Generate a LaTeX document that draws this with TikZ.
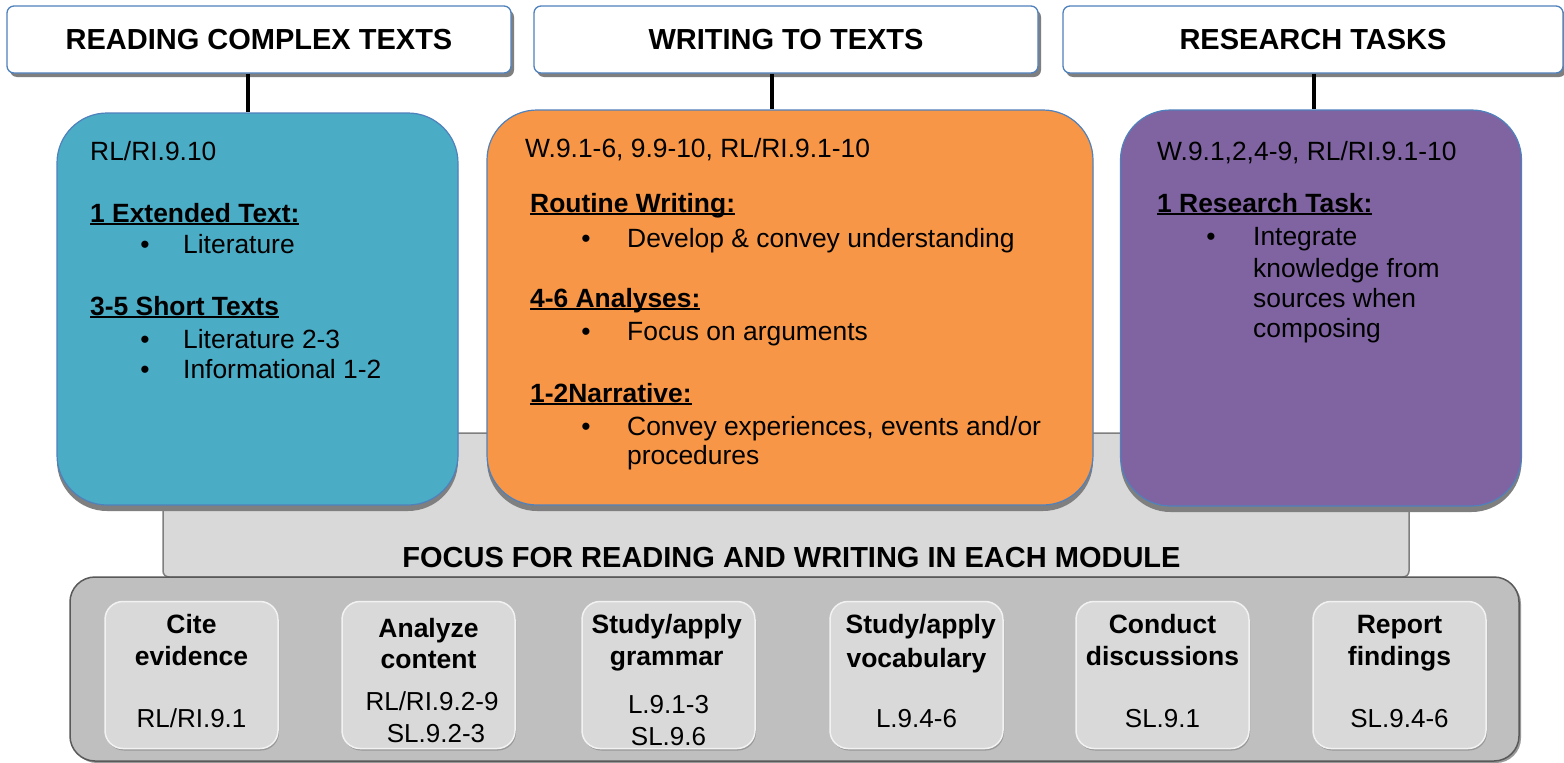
\documentclass[tikz,border=0pt]{standalone}
\usepackage{fontspec}
\setmainfont{Liberation Sans}
\usetikzlibrary{shadows}
\definecolor{tealc}{HTML}{4BACC6}
\definecolor{orangec}{HTML}{F79646}
\definecolor{purplec}{HTML}{8064A2}
\definecolor{blueline}{HTML}{4F81BD}
\definecolor{grayA}{HTML}{D9D9D9}
\definecolor{grayB}{HTML}{BFBFBF}
\definecolor{grayC}{HTML}{595959}
\definecolor{shadowgray}{HTML}{7F7F7F}
\newcommand\myul[1]{\setbox0\hbox{#1}\rlap{\rule[-3pt]{\wd0}{1.9pt}}\box0}
\newcommand\fsz[1]{\fontsize{#1}{#1}\selectfont}
\tikzset{
  hdr/.style={rounded corners=7pt,
    draw=blueline, line width=1.3pt, fill=white,
    minimum height=67pt, inner sep=0pt,
    drop shadow={shadow xshift=3pt, shadow yshift=-4pt, fill=shadowgray, opacity=1},
    font=\fsz{29}\bfseries},
  card/.style={draw=blueline, line width=1.2pt, rounded corners=50pt, inner sep=0pt,
    drop shadow={shadow xshift=0pt, shadow yshift=-6pt, fill=shadowgray, opacity=1}},
  txt/.style={anchor=base west, inner sep=0pt, font=\fsz{26.4}},
  bdot/.style={anchor=base, inner sep=0pt, font=\fsz{26.4}},
  conn/.style={draw=black, line width=4pt},
  focusbox/.style={draw=shadowgray, line width=1.5pt, fill=grayA, rounded corners=6pt, inner sep=0pt},
  outerbox/.style={draw=grayC, line width=1.5pt, fill=grayB, rounded corners=25pt, inner sep=0pt,
    drop shadow={shadow xshift=2pt, shadow yshift=-2pt, fill=shadowgray, opacity=0.8}},
  smallbox/.style={draw=white!95!black, line width=1.5pt, fill=grayA, rounded corners=18pt,
    minimum width=173pt, minimum height=147pt, inner sep=0pt,
    drop shadow={shadow xshift=1pt, shadow yshift=-2pt, fill=shadowgray, opacity=0.6}},
  stitle/.style={anchor=base, inner sep=0pt, font=\fsz{26.5}\bfseries},
  scode/.style={anchor=base, inner sep=0pt, font=\fsz{26}},
}
\begin{document}
\begin{tikzpicture}[x=1pt, y=-1pt]
\useasboundingbox[fill=white] (0,0) rectangle (1564,763);

% focus background
\node[focusbox, minimum width=1246pt, minimum height=144pt] (focus) at (786,505) {};

% cards
\node[card, fill=tealc, minimum width=401pt, minimum height=392pt] (b1) at (257.5,309) {};
\node[card, fill=orangec, minimum width=606pt, minimum height=395pt] (b2) at (790,307.5) {};
\node[card, fill=purplec, minimum width=401pt, minimum height=396pt] (b3) at (1321,308) {};

% headers
\node[hdr, minimum width=504pt] (h1) at (259,39.5) {READING COMPLEX TEXTS};
\node[hdr, minimum width=504pt] (h2) at (786,39.5) {WRITING TO TEXTS};
\node[hdr, minimum width=500pt] (h3) at (1313,39.5) {RESEARCH TASKS};

% connectors
\draw[conn] ([xshift=-11pt]h1.south) -- ([xshift=-11pt]h1.south |- b1.north);
\draw[conn] ([xshift=-14pt]h2.south) -- ([xshift=-14pt]h2.south |- b2.north);
\draw[conn] ([xshift=1pt]h3.south) -- ([xshift=1pt]h3.south |- b3.north);

% teal text
\node[txt] (t0) at (90,160) {RL/RI.9.10};
\node[txt] (t1) at (90,222) {\bfseries\myul{1 Extended Text:}};
\node[bdot] (t2d) at (145,253) {\textbullet};
\node[txt] (t2) at (183,253) {Literature};
\node[txt] (t3) at (90,315) {\bfseries\myul{3-5 Short Texts}};
\node[bdot] (t4d) at (145,348) {\textbullet};
\node[txt] (t4) at (183,348) {Literature 2-3};
\node[bdot] (t5d) at (145,378) {\textbullet};
\node[txt] (t5) at (183,378) {Informational 1-2};

% orange text
\node[txt] (o0) at (525,157) {W.9.1-6, 9.9-10, RL/RI.9.1-10};
\node[txt] (o1) at (530,212) {\bfseries\myul{Routine Writing:}};
\node[bdot] (o2d) at (586,247) {\textbullet};
\node[txt] (o2) at (627,247) {Develop \& convey understanding};
\node[txt] (o3) at (530,307) {\bfseries\myul{4-6 Analyses:}};
\node[bdot] (o4d) at (586,340) {\textbullet};
\node[txt] (o4) at (627,340) {Focus on arguments};
\node[txt] (o5) at (530,402) {\bfseries\myul{1-2Narrative:}};
\node[bdot] (o6d) at (586,435) {\textbullet};
\node[txt] (o6) at (627,435) {Convey experiences, events and/or};
\node[txt] (o7) at (627,464) {procedures};

% purple text
\node[txt] (p0) at (1157,160) {W.9.1,2,4-9, RL/RI.9.1-10};
\node[txt] (p1) at (1157,212) {\bfseries\myul{1 Research Task:}};
\node[bdot] (p2d) at (1211,245) {\textbullet};
\node[txt] (p2) at (1253,245) {Integrate};
\node[txt] (p3) at (1253,277) {knowledge from};
\node[txt] (p4) at (1253,307) {sources when};
\node[txt] (p5) at (1253,337) {composing};

% focus title
\node[anchor=base, inner sep=0pt, font=\fsz{29}\bfseries] (ft) at (791.5,567) {FOCUS FOR READING AND WRITING IN EACH MODULE};

% bottom
\node[outerbox, minimum width=1449pt, minimum height=184pt] (outer) at (794.5,669) {};
\node[smallbox] (s1) at (191.5,675) {};
\node[smallbox] (s2) at (428.5,675) {};
\node[smallbox] (s3) at (668.5,675) {};
\node[smallbox] (s4) at (916.5,675) {};
\node[smallbox] (s5) at (1162.5,675) {};
\node[smallbox] (s6) at (1399.5,675) {};

\node[stitle] (s1a) at (191.5,633) {Cite};
\node[stitle] (s1b) at (191.5,665) {evidence};
\node[scode] (s1c) at (191.5,727) {RL/RI.9.1};

\node[stitle] (s2a) at (428.5,637) {Analyze};
\node[stitle] (s2b) at (428.5,668) {content};
\node[scode] (s2c) at (432,710) {RL/RI.9.2-9};
\node[scode] (s2d) at (436,742) {SL.9.2-3};

\node[stitle] (s3a) at (666.7,633) {Study/apply};
\node[stitle] (s3b) at (666.7,665) {grammar};
\node[scode] (s3c) at (668.5,713) {L.9.1-3};
\node[scode] (s3d) at (668.5,745) {SL.9.6};

\node[stitle] (s4a) at (920.7,633) {Study/apply};
\node[stitle] (s4b) at (916.5,667) {vocabulary};
\node[scode] (s4c) at (916.5,727) {L.9.4-6};

\node[stitle] (s5a) at (1162.5,633) {Conduct};
\node[stitle] (s5b) at (1162.5,665) {discussions};
\node[scode] (s5c) at (1162.5,727) {SL.9.1};

\node[stitle] (s6a) at (1399.5,633) {Report};
\node[stitle] (s6b) at (1399.5,665) {findings};
\node[scode] (s6c) at (1399.5,727) {SL.9.4-6};
\end{tikzpicture}
\end{document}
